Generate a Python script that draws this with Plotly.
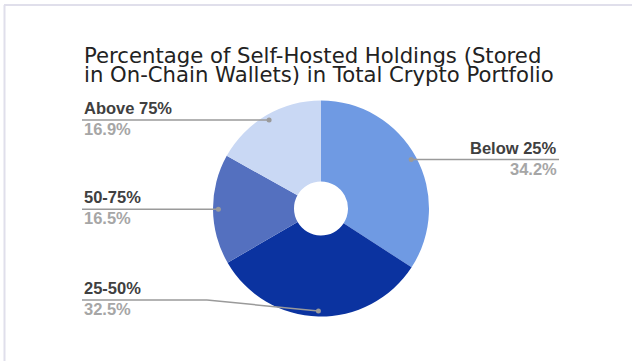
import math
import plotly.graph_objects as go

# Share of portfolio held in self-hosted wallets
categories = ["Below 25%", "25-50%", "50-75%", "Above 75%"]
shares = [34.2, 32.5, 16.5, 16.9]
value_labels = ["34.2%", "32.5%", "16.5%", "16.9%"]
slice_colors = ["#6f9ae3", "#0b33a0", "#5470bf", "#c9d8f4"]
title_lines = [
    "Percentage of Self-Hosted Holdings (Stored",
    "in On-Chain Wallets) in Total Crypto Portfolio",
]

W, H = 632, 361
CX, CY, R = 321, 208.5, 108  # pie centre and radius in pixels
DOT_R = 0.95 * R             # where the leader lines touch the slices


def px(x):
    return x / W


def py(y):
    return 1 - y / H


fig = go.Figure()
fig.add_trace(go.Pie(
    labels=categories,
    values=shares,
    marker=dict(colors=slice_colors, line=dict(width=0)),
    hole=0.25,
    sort=False,
    direction="clockwise",
    rotation=0,
    textinfo="none",
    showlegend=False,
    domain=dict(x=[px(CX - R), px(CX + R)], y=[py(CY + R), py(CY - R)]),
))

# anchor points for leader lines at each slice's mid angle
total = sum(shares)
dots = []
acc = 0.0
for s in shares:
    mid = (acc + s / 2) / total
    acc += s
    a = 2 * math.pi * mid
    dots.append((CX + DOT_R * math.sin(a), CY - DOT_R * math.cos(a)))

LEFT_X, RIGHT_X = 82, 559
LINE_COLOR = "#9a9a9a"
shapes = []
label_specs = []  # (x, line_y, anchor)

for i, (dx, dy) in enumerate(dots):
    name = categories[i]
    if name == "Below 25%":
        ly = dy
        path = [(dx, dy), (RIGHT_X, ly)]
        label_specs.append((RIGHT_X, ly, "right"))
    elif name == "25-50%":
        ly = 300
        path = [(LEFT_X, ly), (207, ly), (dx, dy)]
        label_specs.append((LEFT_X, ly, "left"))
    else:
        ly = dy
        path = [(LEFT_X, ly), (dx, dy)]
        label_specs.append((LEFT_X, ly, "left"))
    for (x0, y0), (x1, y1) in zip(path[:-1], path[1:]):
        shapes.append(dict(type="line", xref="paper", yref="paper",
                           x0=px(x0), y0=py(y0), x1=px(x1), y1=py(y1),
                           line=dict(color=LINE_COLOR, width=1.5)))
    shapes.append(dict(type="circle", xref="paper", yref="paper",
                       x0=px(dx - 2.5), x1=px(dx + 2.5),
                       y0=py(dy + 2.5), y1=py(dy - 2.5),
                       fillcolor=LINE_COLOR, line=dict(width=0)))

# light frame along the top and left edges
shapes.append(dict(type="line", xref="paper", yref="paper",
                   x0=px(4), y0=py(5), x1=1, y1=py(5),
                   line=dict(color="#e0dfeb", width=2)))
shapes.append(dict(type="line", xref="paper", yref="paper",
                   x0=px(4.5), y0=py(5), x1=px(4.5), y1=0,
                   line=dict(color="#e0dfeb", width=2)))

annotations = []
for i, (x, ly, anchor) in enumerate(label_specs):
    annotations.append(dict(
        x=px(x), y=py(ly), xref="paper", yref="paper",
        xanchor=anchor, yanchor="bottom", yshift=1, showarrow=False,
        text="<b>%s</b>" % categories[i],
        font=dict(family="Liberation Sans, Arial", size=16.5, color="#404040"),
    ))
    annotations.append(dict(
        x=px(x), y=py(ly), xref="paper", yref="paper",
        xanchor=anchor, yanchor="top", yshift=2, showarrow=False,
        text="<b>%s</b>" % value_labels[i],
        font=dict(family="Liberation Sans, Arial", size=16.5, color="#a6a6a6"),
    ))

for j, line in enumerate(title_lines):
    annotations.append(dict(
        x=px(82), y=py(70 + 19 * j), xref="paper", yref="paper",
        xanchor="left", yanchor="bottom", showarrow=False,
        text=line,
        font=dict(family="DejaVu Sans", size=21.2, color="#222222"),
    ))

fig.update_layout(
    width=W, height=H,
    margin=dict(l=0, r=0, t=0, b=0),
    paper_bgcolor="white",
    plot_bgcolor="white",
    shapes=shapes,
    annotations=annotations,
)

fig.write_html("out.html")
